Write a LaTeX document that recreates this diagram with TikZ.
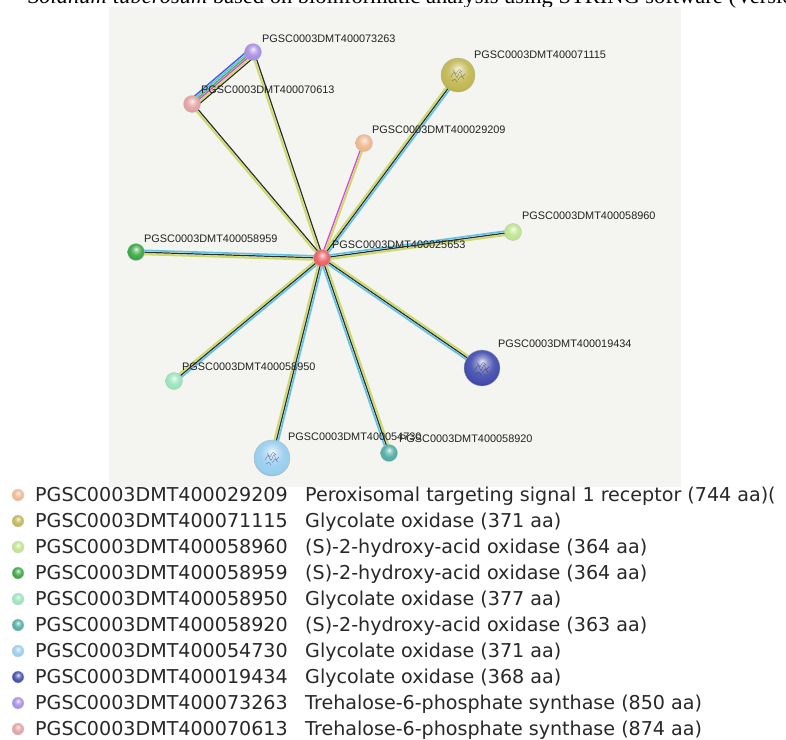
\documentclass[tikz,border=0pt]{standalone}
\usepackage{fontspec}
\setmainfont{Liberation Serif}
\newfontfamily\labfont{Liberation Sans}
\newfontfamily\legfont{DejaVu Sans}
\usetikzlibrary{calc}

\definecolor{panel}{RGB}{244,244,240}
\definecolor{etext}{RGB}{205,218,105}
\definecolor{ecoex}{RGB}{45,45,45}
\definecolor{edb}{RGB}{95,195,230}
\definecolor{eexp}{RGB}{220,70,220}
\definecolor{efus}{RGB}{80,90,220}
\definecolor{enb}{RGB}{70,185,90}
\definecolor{cRed}{RGB}{236,92,98}
\definecolor{cPur}{RGB}{165,140,228}
\definecolor{cPink}{RGB}{226,160,160}
\definecolor{cPeach}{RGB}{240,182,138}
\definecolor{cOlive}{RGB}{192,182,80}
\definecolor{cLgreen}{RGB}{190,228,140}
\definecolor{cGreen}{RGB}{55,165,65}
\definecolor{cMint}{RGB}{150,228,188}
\definecolor{cNavy}{RGB}{65,75,172}
\definecolor{cLblue}{RGB}{150,205,238}
\definecolor{cTeal}{RGB}{75,172,162}
\definecolor{labtext}{RGB}{35,35,35}
\definecolor{legtext}{RGB}{40,40,40}
\colorlet{glasscol}{red}

\pgfdeclareradialshading[glasscol]{glass}{\pgfqpoint{0bp}{9bp}}{%
  color(0bp)=(glasscol!10!white); color(7bp)=(glasscol!55!white);
  color(16bp)=(glasscol!90!white); color(26bp)=(glasscol);
  color(32bp)=(glasscol!80!black); color(50bp)=(glasscol!60!black)}

\newcommand{\pline}[4]{\draw[#4] ($(#1)!#3!90:(#2)$) -- ($(#2)!#3!-90:(#1)$);}
\newcommand{\stredge}[2]{%
  \pline{#1}{#2}{2pt}{ytm}%
  \pline{#1}{#2}{0pt}{bco}%
  \pline{#1}{#2}{-1.9pt}{cdb}}
\newcommand{\prot}[2]{\draw[#2, line width=0.45pt, opacity=0.55, rounded corners=0.8pt, shift={(#1)}]
  (-7,2) -- (-4,-3) -- (-1,3) -- (2,-4) -- (4,2) -- (7,-1)
  (-5,-5) -- (-2,-1) -- (1,-6) -- (4,-3)
  (0,5) -- (3,1) -- (6,4) (-6,6) -- (-3,4) -- (-1,7);}

\tikzset{
  glass/.code={\colorlet{glasscol}{#1}\tikzset{shade, shading=glass}},
  ytm/.style={etext, line width=2pt},
  bco/.style={ecoex, line width=1.2pt},
  cdb/.style={edb, line width=1.7pt},
  mex/.style={eexp, line width=1.3pt},
  prot small/.style={circle, inner sep=0, minimum size=17pt, draw=black!25, line width=0.3pt},
  prot big/.style={circle, inner sep=0, minimum size=36pt, draw=black!30, line width=0.3pt},
  lab/.style={anchor=west, inner sep=0, text=labtext, font=\labfont\fontsize{10.9}{12}\selectfont},
  legball/.style={circle, inner sep=0, minimum size=12pt, draw=black!15, line width=0.3pt},
  legtxt/.style={anchor=base west, inner sep=0, text=legtext, font=\legfont\fontsize{19.1}{22}\selectfont},
}

\begin{document}
\begin{tikzpicture}[x=1pt, y=-1pt]
\useasboundingbox (0,0) rectangle (786,739);
\fill[white] (0,0) rectangle (786,739);

% caption line cut at top
\node[anchor=base east, inner sep=0, font=\fontsize{22.5}{26}\selectfont] (capa) at (107,3) {\textit{Solanum}};
\node[anchor=base west, inner sep=0, font=\fontsize{22.5}{26}\selectfont] (capb) at (113,3) {\textit{tuberosum} based on bioinformatic analysis using STRING software (Version};

% network panel
\fill[panel] (109,7) rectangle (681,487);

% node positions
\coordinate (c0) at (322,258);
\coordinate (p73263) at (253,52);
\coordinate (p70613) at (192,104);
\coordinate (p29209) at (364,143);
\coordinate (p71115) at (458,75);
\coordinate (p58960) at (513,232);
\coordinate (p58959) at (136,252);
\coordinate (p58950) at (174,381);
\coordinate (p19434) at (482,368);
\coordinate (p54730) at (272,458);
\coordinate (p58920) at (389,453);

% edges
\pline{c0}{p73263}{1.1pt}{ytm}
\pline{c0}{p73263}{-1.1pt}{bco}
\pline{c0}{p70613}{1.1pt}{ytm}
\pline{c0}{p70613}{-1.1pt}{bco}
\pline{c0}{p29209}{1pt}{mex}
\pline{c0}{p29209}{-1pt}{ytm}
\stredge{c0}{p71115}
\stredge{p58960}{c0}
\stredge{c0}{p58959}
\stredge{p58950}{c0}
\stredge{p54730}{c0}
\stredge{c0}{p58920}
\stredge{c0}{p19434}
\pline{p70613}{p73263}{4.4pt}{efus, line width=1.4pt}
\pline{p70613}{p73263}{2.6pt}{edb, line width=1.4pt}
\pline{p70613}{p73263}{0.8pt}{enb, line width=1.4pt}
\pline{p70613}{p73263}{-1pt}{eexp, line width=1.4pt}
\pline{p70613}{p73263}{-2.9pt}{etext, line width=1.8pt}
\pline{p70613}{p73263}{-4.7pt}{ecoex, line width=1.1pt}

% nodes
\node[prot small, glass=cRed] (n25653) at (c0) {};
\node[prot small, glass=cPur] (n73263) at (p73263) {};
\node[prot small, glass=cPink] (n70613) at (p70613) {};
\node[prot small, glass=cPeach] (n29209) at (p29209) {};
\node[prot big, minimum size=34pt, glass=cOlive] (n71115) at (p71115) {};
\prot{n71115}{black!60!cOlive}
\node[prot small, glass=cLgreen] (n58960) at (p58960) {};
\node[prot small, glass=cGreen] (n58959) at (p58959) {};
\node[prot small, glass=cMint] (n58950) at (p58950) {};
\node[prot big, glass=cNavy] (n19434) at (p19434) {};
\prot{n19434}{black!50!cNavy}
\node[prot big, glass=cLblue] (n54730) at (p54730) {};
\prot{n54730}{black!30!cNavy}
\node[prot small, glass=cTeal] (n58920) at (p58920) {};

% labels
\node[lab] (l73263) at (262,39) {PGSC0003DMT400073263};
\node[lab] (l70613) at (201,90) {PGSC0003DMT400070613};
\node[lab] (l29209) at (372,130) {PGSC0003DMT400029209};
\node[lab] (l71115) at (474,55) {PGSC0003DMT400071115};
\node[lab] (l58960) at (522,216) {PGSC0003DMT400058960};
\node[lab] (l58959) at (144,239) {PGSC0003DMT400058959};
\node[lab] (l25653) at (332,245) {PGSC0003DMT400025653};
\node[lab] (l58950) at (182,367) {PGSC0003DMT400058950};
\node[lab] (l19434) at (498,344) {PGSC0003DMT400019434};
\node[lab] (l58920) at (399,439) {PGSC0003DMT400058920};
\node[lab] (l54730) at (288,437) {PGSC0003DMT400054730};

% legend
\foreach \col/\id/\desc [count=\i from 0] in {
  cPeach/029209/{Peroxisomal targeting signal 1 receptor (744 aa)(},
  cOlive/071115/{Glycolate oxidase (371 aa)},
  cLgreen/058960/{(S)-2-hydroxy-acid oxidase (364 aa)},
  cGreen/058959/{(S)-2-hydroxy-acid oxidase (364 aa)},
  cMint/058950/{Glycolate oxidase (377 aa)},
  cTeal/058920/{(S)-2-hydroxy-acid oxidase (363 aa)},
  cLblue/054730/{Glycolate oxidase (371 aa)},
  cNavy/019434/{Glycolate oxidase (368 aa)},
  cPur/073263/{Trehalose-6-phosphate synthase (850 aa)},
  cPink/070613/{Trehalose-6-phosphate synthase (874 aa)}} {
  \pgfmathsetmacro{\yy}{495+26*\i}
  \node[legball, glass=\col] (b\i) at (18,\yy) {};
  \node[legtxt] (i\i) at (35,\yy+6.8) {PGSC0003DMT400\id};
  \node[legtxt] (d\i) at (305,\yy+6.8) {\desc};
}
\end{tikzpicture}
\end{document}
